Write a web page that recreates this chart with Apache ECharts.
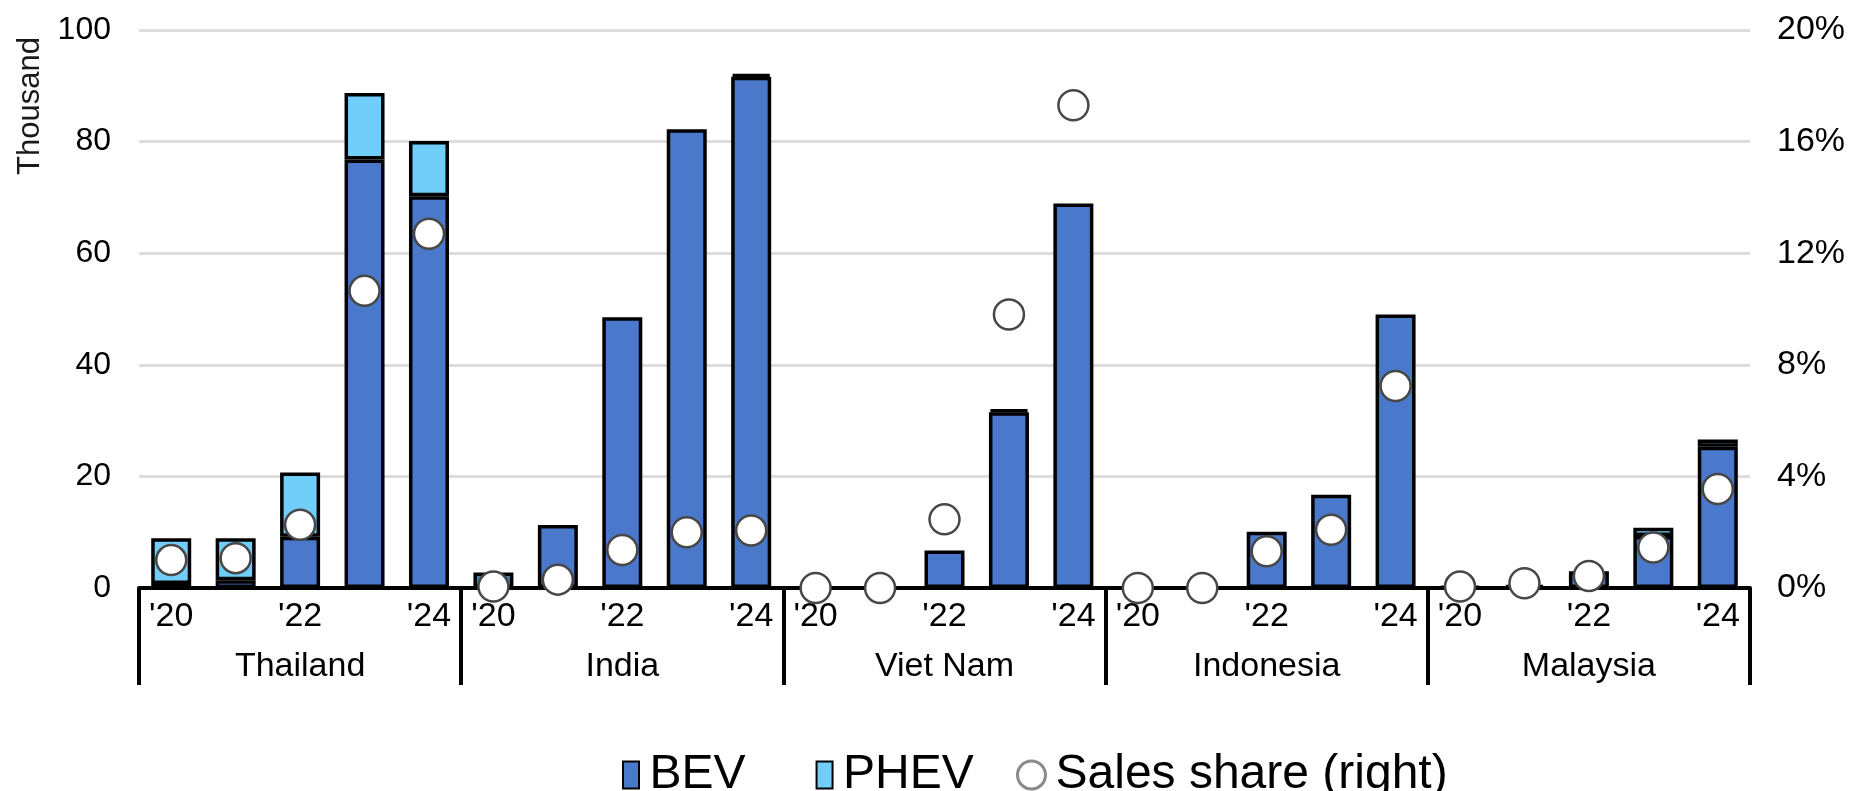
<!DOCTYPE html>
<html>
<head>
<meta charset="utf-8">
<script src="https://cdn.jsdelivr.net/npm/echarts@6/dist/echarts.min.js"></script>
<style>
  html, body { margin: 0; padding: 0; background: #fff; }
  #chart { width: 1851px; height: 791px; }
</style>
</head>
<body>
<div id="chart"></div>
<script>
// data (thousand vehicles, share in %)
var countries = ['Thailand', 'India', 'Viet Nam', 'Indonesia', 'Malaysia'];
var years = ["'20", "'21", "'22", "'23", "'24"];
var labelledYears = ["'20", "'22", "'24"];

var bev = [0.7, 1.4, 9.2, 76.8, 70.2,
           2.8, 11.3, 48.5, 82.2, 91.6,
           null, null, 6.7, 31.5, 68.9,
           null, null, 10.1, 16.7, 49.0,
           0.3, 0.5, 3.0, 9.3, 25.3];
var phev = [8.2, 7.5, 11.5, 11.9, 9.9,
            null, null, null, null, 0.5,
            null, null, null, 0.5, null,
            null, null, null, null, null,
            null, null, null, 1.5, 1.3];
var share = [1.0, 1.07, 2.27, 10.65, 12.7,
             0.05, 0.3, 1.36, 2.0, 2.06,
             0, 0, 2.46, 9.8, 17.3,
             0, 0, 1.32, 2.09, 7.24,
             0.05, 0.17, 0.43, 1.45, 3.55];

var leftTicks = { min: 0, max: 100, interval: 20 };
var rightTicks = { min: 0, max: 20, interval: 4 };

var font = 'Liberation Sans';
var categories = [];
countries.forEach(function () { categories = categories.concat(years); });

// narrow box used as legend key for the bars
var barKey = 'path://M0,0 L16,0 L16,27 L0,27 Z';
var legendText = { fontSize: 48, color: '#000', fontFamily: font };

var chart = echarts.init(document.getElementById('chart'));

chart.setOption({
  animation: false,
  backgroundColor: '#fff',
  textStyle: { fontFamily: font, color: '#000' },
  grid: { left: 139, right: 101, top: 30, bottom: 203, outerBoundsMode: 'none' },
  legend: [{
    left: 617,
    top: 746,
    itemWidth: 27,
    itemHeight: 27,
    itemGap: 70,
    symbolKeepAspect: true,
    textStyle: legendText,
    data: [
      { name: 'BEV', icon: barKey },
      { name: 'PHEV', icon: barKey }
    ]
  }, {
    left: 1011,
    top: 746,
    itemWidth: 28,
    itemHeight: 28,
    textStyle: { fontSize: 48, color: '#000', fontFamily: font, padding: [0, 0, 0, 5] },
    data: [
      { name: 'Sales share (right)', icon: 'circle',
        itemStyle: { color: '#fff', borderColor: '#8a8a8a', borderWidth: 3 } }
    ]
  }],
  graphic: [{
    type: 'text',
    x: 30,
    y: 106,
    rotation: Math.PI / 2,
    style: {
      text: 'Thousand',
      font: '31px "Liberation Sans"',
      fill: '#1a1a1a',
      align: 'center',
      verticalAlign: 'middle'
    }
  }],
  xAxis: [{
    type: 'category',
    data: categories,
    position: 'bottom',
    offset: 3,
    axisLine: { show: true, lineStyle: { color: '#000', width: 4 } },
    axisTick: { show: false },
    axisLabel: {
      interval: 0,
      margin: 9,
      fontSize: 34,
      color: '#000',
      formatter: function (v) { return labelledYears.indexOf(v) >= 0 ? v : ''; }
    }
  }, {
    type: 'category',
    data: countries,
    position: 'bottom',
    offset: 3,
    axisLine: { show: false },
    axisTick: { show: true, length: 97, lineStyle: { color: '#000', width: 4 } },
    axisLabel: { interval: 0, margin: 59, fontSize: 34, color: '#000' }
  }],
  yAxis: [{
    type: 'value',
    min: leftTicks.min,
    max: leftTicks.max,
    interval: leftTicks.interval,
    axisLine: { show: false },
    axisTick: { show: false },
    axisLabel: { fontSize: 32, color: '#000', margin: 28 },
    splitLine: { show: true, lineStyle: { color: '#dcdcdc', width: 3 } }
  }, {
    type: 'value',
    position: 'right',
    min: rightTicks.min,
    max: rightTicks.max,
    interval: rightTicks.interval,
    axisLine: { show: false },
    axisTick: { show: false },
    axisLabel: { fontSize: 34, color: '#000', margin: 27, formatter: '{value}%' },
    splitLine: { show: false }
  }],
  series: [{
    name: 'BEV',
    type: 'bar',
    stack: 'sales',
    barWidth: 40,
    data: bev,
    itemStyle: { color: '#4a78ca', borderColor: '#000', borderWidth: 3.5 }
  }, {
    name: 'PHEV',
    type: 'bar',
    stack: 'sales',
    barWidth: 40,
    data: phev,
    itemStyle: { color: '#71cef9', borderColor: '#000', borderWidth: 3.5 }
  }, {
    name: 'Sales share (right)',
    type: 'scatter',
    yAxisIndex: 1,
    symbol: 'circle',
    symbolSize: 30,
    data: share,
    z: 5,
    itemStyle: { color: '#fff', borderColor: '#474747', borderWidth: 2.5, opacity: 1 }
  }]
});
</script>
</body>
</html>
